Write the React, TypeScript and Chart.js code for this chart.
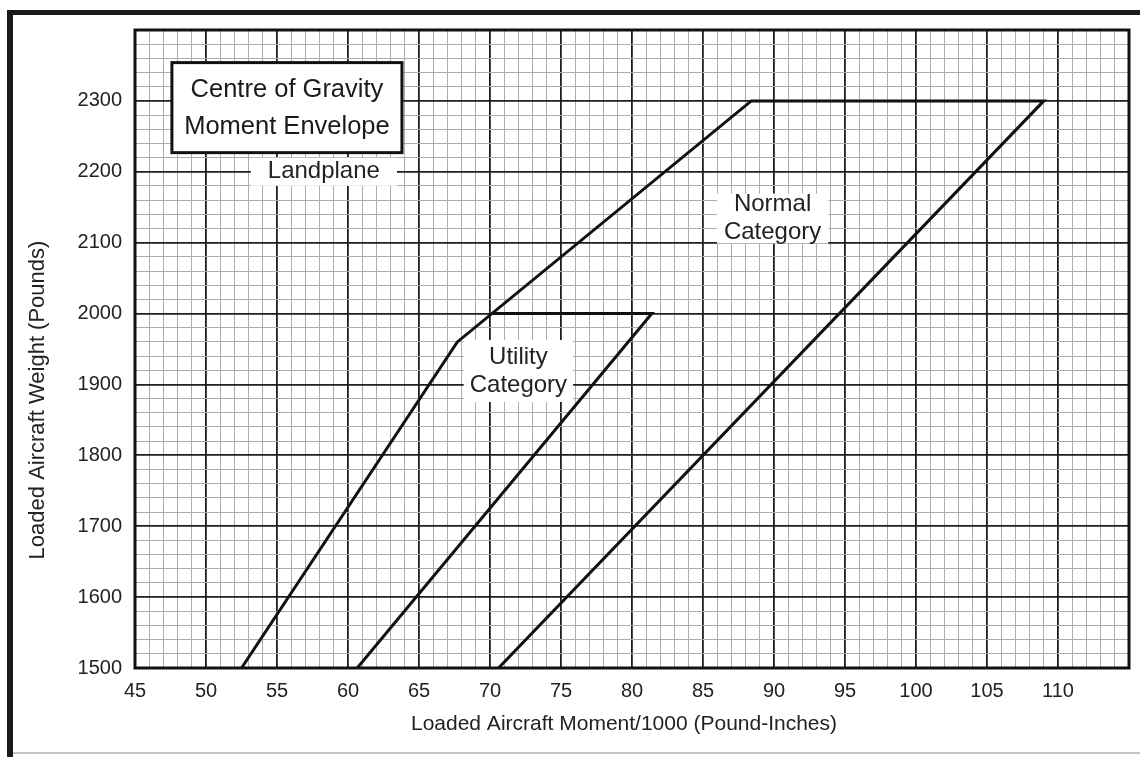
import React, { useEffect, useRef } from "react";
import { Chart, registerables } from "chart.js";

Chart.register(...registerables);

// ---- data ----
const normalMoment = [52.5, 67.7, 88.4, 109, 70.6];
const normalWeight = [1500, 1960, 2300, 2300, 1500];
const utilityMoment = [70.1, 81.4, 60.65];
const utilityWeight = [2000, 2000, 1500];

const xMin = 45;
const xMax = 115;
const xMajor = 5;
const xMinor = 1;
const xLabelMax = 110;
const yMin = 1500;
const yMax = 2400;
const yMajor = 100;
const yMinor = 20;
const yLabelMax = 2300;

const titleLines = ["Centre of Gravity", "Moment Envelope"];
const xAxisTitle = "Loaded Aircraft Moment/1000 (Pound-Inches)";
const yAxisTitle = "Loaded Aircraft Weight (Pounds)";
const noteLandplane = ["Landplane"];
const noteUtility = ["Utility", "Category"];
const noteNormal = ["Normal", "Category"];

const FONT = '"Liberation Sans", Arial, Helvetica, sans-serif';
const TEXT = "#222";

const isMult = (v: number, m: number) => Math.abs(v / m - Math.round(v / m)) < 1e-6;

const decorPlugin = {
  id: "decor",
  beforeDraw(chart: any) {
    const c = chart.ctx;
    c.save();
    c.fillStyle = "#fff";
    c.fillRect(0, 0, chart.width, chart.height);
    // outer frame
    c.fillStyle = "#1a1a1a";
    c.fillRect(7, 10, chart.width - 7, 5);
    c.fillRect(7, 10, 6, chart.height - 10);
    c.fillStyle = "#c4c4c4";
    c.fillRect(13, 752, chart.width - 13, 2);
    c.restore();
  },
  afterDatasetsDraw(chart: any) {
    const c = chart.ctx;
    const xs = chart.scales.x;
    const ys = chart.scales.y;
    const a = chart.chartArea;
    c.save();
    // plot frame
    c.strokeStyle = "#111";
    c.lineWidth = 3;
    c.strokeRect(a.left, a.top, a.right - a.left, a.bottom - a.top);

    const note = (lines: string[], mx: number, wy: number, size: number, lh: number, padX: number, padY: number) => {
      const cx = xs.getPixelForValue(mx);
      const cy = ys.getPixelForValue(wy);
      c.font = `${size}px ${FONT}`;
      const w = Math.max(...lines.map((l) => c.measureText(l).width)) + padX * 2;
      const h = lines.length * lh + padY * 2;
      c.fillStyle = "#fff";
      c.fillRect(cx - w / 2, cy - h / 2, w, h);
      c.fillStyle = TEXT;
      c.textAlign = "center";
      c.textBaseline = "middle";
      lines.forEach((l, i) => {
        c.fillText(l, cx, cy - h / 2 + padY + lh * (i + 0.5));
      });
    };
    note(noteLandplane, 58.3, 2200, 24, 26, 17, 1);
    note(noteUtility, 72.0, 1919, 24, 28, 6, 3);
    note(noteNormal, 89.9, 2134, 24, 28, 7, -3);

    // title box
    const bx0 = xs.getPixelForValue(47.6);
    const bx1 = xs.getPixelForValue(63.8);
    const by0 = ys.getPixelForValue(2354);
    const by1 = ys.getPixelForValue(2227);
    c.fillStyle = "#fff";
    c.fillRect(bx0, by0, bx1 - bx0, by1 - by0);
    c.strokeStyle = "#111";
    c.lineWidth = 3;
    c.strokeRect(bx0, by0, bx1 - bx0, by1 - by0);
    c.fillStyle = "#1a1a1a";
    c.font = `25.5px ${FONT}`;
    c.textAlign = "center";
    c.textBaseline = "middle";
    const bcx = (bx0 + bx1) / 2;
    const bcy = (by0 + by1) / 2;
    c.fillText(titleLines[0], bcx, bcy - 18);
    c.fillText(titleLines[1], bcx, bcy + 19);

    // axis titles
    c.fillStyle = TEXT;
    c.font = `21px ${FONT}`;
    c.fillText(xAxisTitle, (a.left + a.right) / 2 - 8, 724);
    c.font = `22px ${FONT}`;
    c.translate(38, 400);
    c.rotate(-Math.PI / 2);
    c.fillText(yAxisTitle, 0, 0);
    c.restore();
  },
};

export default function App() {
  const ref = useRef<HTMLCanvasElement | null>(null);
  useEffect(() => {
    if (!ref.current) return;
    const chart = new Chart(ref.current, {
      type: "scatter",
      data: {
        datasets: [
          {
            label: "Normal Category",
            data: normalMoment.map((m, i) => ({ x: m, y: normalWeight[i] })),
            showLine: true,
            borderColor: "#111",
            borderWidth: 3,
            pointRadius: 0,
            fill: false,
          },
          {
            label: "Utility Category",
            data: utilityMoment.map((m, i) => ({ x: m, y: utilityWeight[i] })),
            showLine: true,
            borderColor: "#111",
            borderWidth: 3,
            pointRadius: 0,
            fill: false,
          },
        ],
      },
      options: {
        responsive: false,
        animation: false,
        devicePixelRatio: 1,
        layout: { padding: { left: 0, top: 30, right: 8, bottom: 0 } },
        plugins: { legend: { display: false }, tooltip: { enabled: false }, title: { display: false } },
        scales: {
          x: {
            type: "linear",
            min: xMin,
            max: xMax,
            afterFit: (s: any) => {
              s.height = 89;
            },
            border: { display: false },
            grid: {
              drawTicks: false,
              color: (ctx: any) => (ctx.tick && isMult(ctx.tick.value, xMajor) ? "#1e1e1e" : "#ababab"),
              lineWidth: (ctx: any) => (ctx.tick && isMult(ctx.tick.value, xMajor) ? 1.8 : 1),
            },
            ticks: {
              stepSize: xMinor,
              autoSkip: false,
              maxRotation: 0,
              padding: 11,
              color: TEXT,
              font: { family: FONT, size: 20 },
              callback: (v: any) => (isMult(Number(v), xMajor) && Number(v) <= xLabelMax ? String(v) : ""),
            },
          },
          y: {
            type: "linear",
            min: yMin,
            max: yMax,
            afterFit: (s: any) => {
              s.width = 135;
            },
            border: { display: false },
            grid: {
              drawTicks: false,
              color: (ctx: any) => (ctx.tick && isMult(ctx.tick.value, yMajor) ? "#1e1e1e" : "#ababab"),
              lineWidth: (ctx: any) => (ctx.tick && isMult(ctx.tick.value, yMajor) ? 1.8 : 1),
            },
            ticks: {
              stepSize: yMinor,
              autoSkip: false,
              padding: 13,
              color: TEXT,
              font: { family: FONT, size: 20 },
              callback: (v: any) => (isMult(Number(v), yMajor) && Number(v) <= yLabelMax ? String(v) : ""),
            },
          },
        },
      },
      plugins: [decorPlugin],
    } as any);
    return () => chart.destroy();
  }, []);
  return (
    <div style={{ position: "absolute", left: 0, top: 0, width: 1140, height: 757, background: "#fff" }}>
      <canvas ref={ref} width={1140} height={757} style={{ width: 1140, height: 757, display: "block" }} />
    </div>
  );
}
